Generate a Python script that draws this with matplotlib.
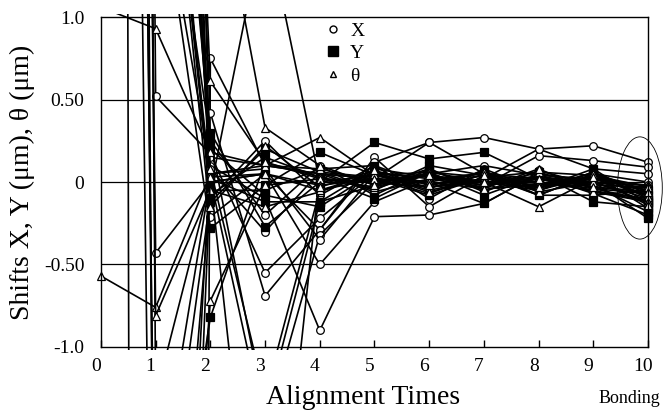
import matplotlib
matplotlib.use('Agg')
import matplotlib.pyplot as plt
import matplotlib.transforms as mtransforms
from matplotlib.lines import Line2D
from matplotlib.patches import Ellipse, Rectangle
import numpy as np

plt.rcParams['font.family'] = ['Liberation Serif', 'DejaVu Serif']

# alignment step 0..10 (10 = after bonding)
steps = list(range(11))
tick_labels = [str(s) for s in steps]

# shift of X (um) per step, one list per chip
x_runs = [
    [60, -60, 0.75, 0.10, 0.05, 0.02, 0.24, 0.27, 0.20, 0.22, 0.12],
    [40, 0.52, 0.17, -0.55, -0.22, 0.05, 0.03, -0.02, 0.16, 0.13, 0.09],
    [25, -0.43, 0.00, 0.05, -0.29, 0.15, -0.15, 0.04, -0.08, 0.05, 0.00],
    [30, 8, 0.42, -0.69, -0.29, 0.12, 0.24, 0.05, -0.08, -0.08, -0.05],
    [35, 5, 0.10, -0.10, -0.90, -0.21, -0.20, -0.13, 0.05, 0.00, -0.10],
    [20, 3, -0.21, 0.05, -0.50, -0.12, 0.02, 0.00, -0.05, 0.04, -0.08],
    [45, 12, 0.02, -1.5, -0.32, 0.00, 0.05, 0.10, 0.04, -0.03, -0.06],
    [15, 6, 0.05, 0.08, -0.35, 0.05, -0.05, 0.02, 0.20, 0.08, 0.05],
    [-20, -6, 0.15, 0.10, 0.05, 0.02, 0.00, -0.04, -0.02, 0.02, -0.04],
    [10, 3, -0.05, 1.6, 0.00, 0.04, 0.06, 0.00, -0.03, 0.00, -0.02],
    [28, 4, 0.25, -0.20, 0.10, -0.08, 0.08, -0.06, 0.07, -0.02, -0.03],
    [22, -2.5, -0.10, 0.25, -0.08, 0.10, -0.10, 0.08, -0.05, 0.06, -0.07],
    [33, 7, 0.08, -0.30, 0.06, 0.03, -0.07, 0.05, 0.02, -0.06, -0.12],
]

# shift of Y (um)
y_runs = [
    [40, 4, 0.30, -0.27, 0.00, 0.24, 0.14, 0.18, 0.02, 0.00, -0.22],
    [25, -3, -0.82, 0.12, 0.02, 0.00, -0.03, 0.02, 0.00, -0.05, -0.12],
    [30, 2, -0.28, -0.02, 0.18, 0.04, 0.00, -0.13, 0.05, -0.12, -0.15],
    [-30, -2, 0.02, -0.12, -0.12, 0.08, 0.03, -0.02, 0.04, 0.02, -0.08],
    [20, 7, -0.12, 0.20, 0.06, -0.05, 0.10, 0.04, -0.05, 0.06, -0.10],
    [45, -1.3, 0.00, 0.05, -0.05, 0.02, -0.08, 0.03, -0.01, 0.03, -0.05],
    [15, 2.5, 0.25, -1.4, -0.12, -0.02, 0.08, -0.05, 0.02, -0.02, -0.18],
    [35, 9, -0.05, -0.05, 0.08, 0.10, -0.02, 0.06, -0.04, 0.08, -0.13],
    [18, 3, 0.02, -3.0, 0.05, -0.06, 0.02, -0.03, 0.06, -0.04, -0.11],
    [26, 5, 0.20, -0.08, -0.15, 0.06, -0.04, 0.07, -0.08, 0.05, -0.16],
    [38, -4, -0.08, 0.15, 0.03, -0.10, 0.06, -0.08, 0.04, -0.07, -0.20],
]

# shift of theta (um)
theta_runs = [
    [1.06, 0.93, 0.18, 0.10, 0.08, 0.00, 0.04, -0.02, 0.03, 0.00, -0.05],
    [-0.57, -0.76, 0.05, 0.10, 0.27, 0.04, -0.03, 0.00, -0.15, 0.02, -0.02],
    [30, -0.81, -0.05, -0.15, -0.06, 0.06, 0.02, 0.05, 0.00, -0.04, -0.07],
    [50, 8, 0.61, 0.12, 0.03, -0.04, 0.06, 0.03, 0.06, 0.04, -0.03],
    [20, -5, -0.72, -0.02, 0.02, -0.03, 0.05, -0.04, 0.08, -0.06, -0.10],
    [40, 2, 0.08, -1.3, -0.05, 0.05, -0.06, 0.02, -0.02, 0.05, -0.09],
    [-40, -8, 0.03, 0.05, -0.02, 0.02, 0.00, 0.06, -0.06, 0.00, -0.12],
    [25, 6, 2.1, 0.33, 0.10, -0.02, 0.04, 0.00, 0.02, -0.03, -0.06],
    [32, 3.5, -0.15, 0.22, -0.03, 0.07, -0.02, 0.04, -0.03, 0.03, -0.14],
]

fig = plt.figure(figsize=(6.64, 4.18), dpi=100)
ax = fig.add_axes([0.152, 0.170, 0.824, 0.789])

# let markers sitting on the frame show fully
clip = Rectangle((-0.02, -0.01), 1.04, 1.02, transform=ax.transAxes,
                 facecolor='none', edgecolor='none')

styles = [(x_runs, 'o', 'white', 5.5),
          (y_runs, 's', 'black', 5.5),
          (theta_runs, '^', 'white', 5.5)]
for runs, mk, fc, ms in styles:
    for run in runs:
        ln, = ax.plot(steps, run, color='black', lw=1.2, marker=mk,
                      markersize=ms, markerfacecolor=fc,
                      markeredgecolor='black', markeredgewidth=0.9)
        ln.set_clip_path(clip)

ax.set_xlim(0, 10)
ax.set_ylim(-1.0, 1.0)
ax.set_xticks(steps)
ax.set_xticklabels(tick_labels, fontsize=14)
ax.set_yticks([-1.0, -0.5, 0, 0.5, 1.0])
ax.set_yticklabels(['-1.0', '-0.50', '0', '0.50', '1.0'], fontsize=14)
ax.tick_params(axis='x', direction='in', length=5, width=1, pad=8)
ax.tick_params(axis='y', length=0, pad=12)
shift = mtransforms.ScaledTranslation(-0.05, 0, fig.dpi_scale_trans)
for lab in ax.get_xticklabels():
    lab.set_transform(lab.get_transform() + shift)

for yv in [0.5, 0, -0.5]:
    ax.axhline(yv, color='black', lw=0.9, zorder=0.5)
for sp in ax.spines.values():
    sp.set_linewidth(1.0)

ax.set_xlabel('Alignment Times', fontsize=20)
ax.xaxis.set_label_coords(0.479, -0.115)
ax.set_ylabel('Shifts X, Y (\u03bcm), \u03b8 (\u03bcm)', fontsize=20)
ax.yaxis.set_label_coords(-0.12, 0.5)
ax.text(0.965, -0.155, 'Bonding', transform=ax.transAxes, fontsize=13,
        ha='center', va='center')

ax.add_patch(Ellipse((9.85, -0.036), 0.82, 0.62, fill=False,
                     edgecolor='black', lw=0.6, clip_on=False))

handles = [
    Line2D([], [], ls='none', marker='o', ms=5, mfc='white', mec='black'),
    Line2D([], [], ls='none', marker='s', ms=6.5, mfc='black', mec='black'),
    Line2D([], [], ls='none', marker='^', ms=4.5, mfc='white', mec='black'),
]
ax.legend(handles, ['X', 'Y', '\u03b8'], loc='upper left',
          bbox_to_anchor=(0.406, 0.985), frameon=False, fontsize=14,
          handlelength=1.0, handletextpad=0.4, labelspacing=0.25,
          borderpad=0, borderaxespad=0)

fig.savefig('out.png', dpi=100)
